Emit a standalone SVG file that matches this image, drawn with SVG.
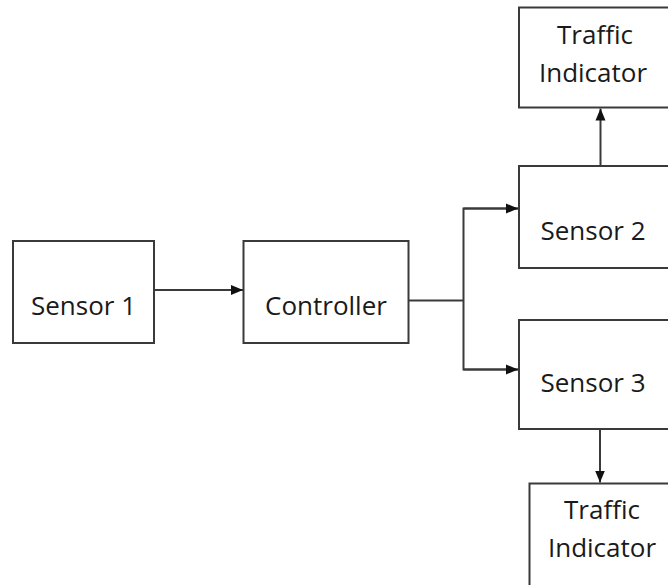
<svg xmlns="http://www.w3.org/2000/svg" width="668" height="585" viewBox="0 0 668 585">
<style>
.box{fill:#fff;stroke:#3a3a3a;stroke-width:2}
.lbl{font-family:"Open Sans","Noto Sans",sans-serif;font-size:26px;fill:#1a1a1a;text-anchor:middle}
.wire{fill:none;stroke:#3a3a3a;stroke-width:2}
</style>
<defs>
<marker id="arr" markerUnits="userSpaceOnUse" markerWidth="12" markerHeight="12" viewBox="0 0 12 12" refX="12" refY="6" orient="auto">
<path d="M0,1 L12,6 L0,11 Z" fill="#111"/>
</marker>
</defs>
<rect width="668" height="585" fill="#fff"/>
<g id="sensor1"><rect class="box" x="13" y="241" width="141" height="102"/><text class="lbl" x="83.5" y="315">Sensor 1</text></g>
<g id="controller"><rect class="box" x="243.5" y="241" width="165" height="102"/><text class="lbl" x="326" y="315">Controller</text></g>
<g id="ti-top"><rect class="box" x="519" y="7.5" width="170" height="100"/><text class="lbl" x="595" y="44">Traffic</text><text class="lbl" x="593" y="82">Indicator</text></g>
<g id="sensor2"><rect class="box" x="519" y="166" width="170" height="102"/><text class="lbl" x="593" y="240">Sensor 2</text></g>
<g id="sensor3"><rect class="box" x="519" y="320" width="170" height="109"/><text class="lbl" x="593" y="392">Sensor 3</text></g>
<g id="ti-bottom"><rect class="box" x="529.5" y="483.5" width="160" height="120"/><text class="lbl" x="602" y="519">Traffic</text><text class="lbl" x="602" y="557">Indicator</text></g>
<g id="connectors">
<path class="wire" d="M154,290 H243" marker-end="url(#arr)"/>
<path class="wire" d="M408.5,300.5 H463.5"/>
<path class="wire" d="M518,208.5 H463.5 V369.5 H518"/>
<path class="wire" d="M463.5,208.5 H518" marker-end="url(#arr)"/>
<path class="wire" d="M463.5,369.5 H518" marker-end="url(#arr)"/>
<path class="wire" d="M600.5,166 V108.5" marker-end="url(#arr)"/>
<path class="wire" d="M600,429 V482.5" marker-end="url(#arr)"/>
</g>
</svg>
